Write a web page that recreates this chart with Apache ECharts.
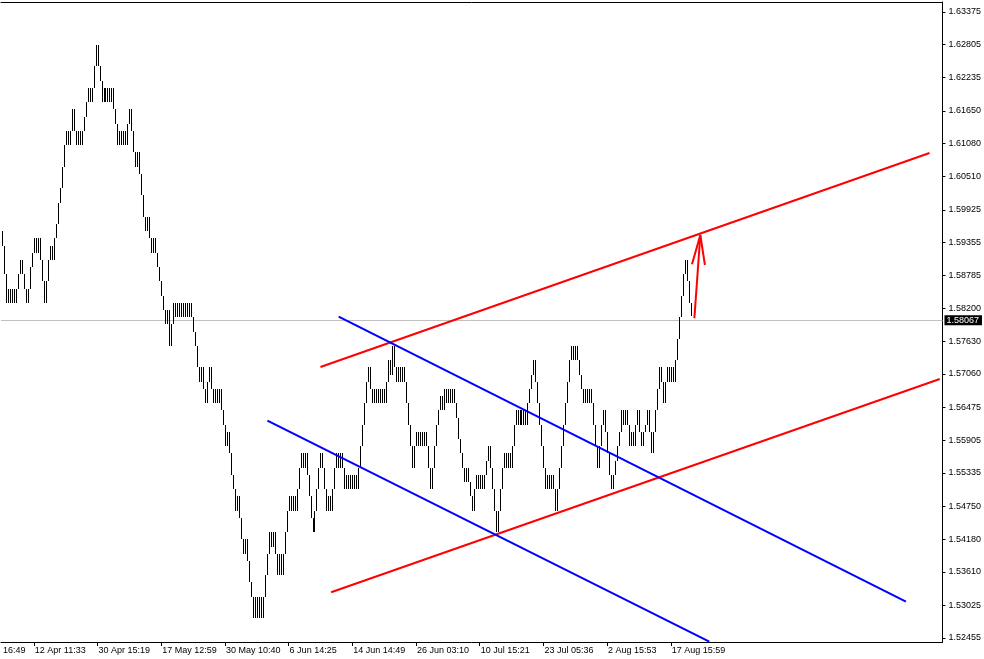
<!DOCTYPE html>
<html>
<head>
<meta charset="utf-8">
<script src="https://cdn.jsdelivr.net/npm/echarts@6/dist/echarts.min.js"></script>
<style>
  html, body { margin: 0; padding: 0; background: #ffffff; }
  #chart { width: 984px; height: 659px; }
</style>
</head>
<body>
<div id="chart"></div>
<script>
// ---- DATA ----
// Bar closes (each bar spans previous close -> its close)
const closes = [
  1.59550,1.59300,1.58800,1.58300,1.58550,1.58300,1.58550,1.58300,1.58550,1.58800,1.59050,
  1.58800,1.58550,1.58300,1.58550,1.58925,1.59175,1.59425,1.59175,1.59425,1.59050,1.58675,1.58300,1.58675,1.59050,1.59300,1.59050,1.59425,
  1.59675,1.60050,1.60300,1.60675,1.61050,1.61300,1.61050,1.61300,1.61675,1.61300,1.61050,1.61300,1.61050,1.61300,1.61550,1.61800,1.62050,1.61800,1.62050,1.62425,1.62800,
  1.62425,1.62175,1.61800,1.62050,1.61800,1.62050,1.61800,1.62050,1.61675,1.61425,1.61050,1.61300,1.61050,1.61300,1.61050,1.61425,1.61675,
  1.61300,1.60925,1.60675,1.60925,1.60550,1.60175,1.59800,1.59550,1.59800,1.59425,1.59175,1.59425,1.59175,1.58925,1.58675,1.58425,1.58175,
  1.57925,1.58175,1.57550,1.57925,1.58300,1.58050,1.58300,1.58050,1.58300,1.58050,1.58300,1.58050,1.58300,1.58050,1.57800,1.57550,1.57175,
  1.56925,1.57175,1.56800,1.56550,1.56925,1.57175,1.56800,1.56550,1.56800,1.56550,1.56800,1.56425,1.56175,1.55800,1.56050,1.55675,1.55300,1.55050,
  1.54675,1.54925,1.54550,1.54175,1.53925,1.54175,1.53800,1.53425,1.53175,1.52800,1.53175,1.52800,1.53175,1.52800,1.53175,1.53550,1.53925,1.54300,1.54050,1.54300,1.53925,1.53550,1.53925,1.53550,
  1.53925,1.54300,1.54675,1.54925,1.54675,1.54925,1.54675,1.55050,1.55425,1.55675,1.55425,1.55675,1.55300,1.54925,1.54550,1.54300,1.54675,1.55050,1.55425,1.55675,1.55425,1.55050,1.54675,1.54925,1.54675,1.55050,1.55425,1.55675,1.55425,1.55675,1.55425,
  1.55050,1.55300,1.55050,1.55300,1.55050,1.55300,1.55050,1.55425,1.55800,1.56175,1.56550,1.56925,1.57175,1.56800,1.56550,1.56800,1.56550,1.56800,1.56550,1.56800,1.56550,1.56925,1.57300,1.57050,1.57550,
  1.57175,1.56925,1.57175,1.56925,1.57175,1.56925,1.56550,1.56175,1.55800,1.55425,1.55800,1.56050,1.55800,1.56050,1.55800,1.56050,1.55800,1.55425,1.55050,1.55425,1.55800,1.56175,1.56425,1.56675,1.56425,1.56800,1.56550,1.56800,1.56550,1.56800,1.56550,
  1.56300,1.55925,1.55675,1.55425,1.55175,1.55425,1.55175,1.54925,1.54675,1.55050,1.55300,1.55050,1.55300,1.55050,1.55300,1.55550,1.55800,1.55425,1.55050,1.54675,1.54300,1.54675,1.55050,1.55425,1.55675,1.55425,1.55675,1.55425,1.55800,1.56175,
  1.56425,1.56175,1.56425,1.56175,1.56425,1.56175,1.56550,1.56800,1.57050,1.57300,1.56925,1.56550,1.56175,1.55800,1.55425,1.55050,1.55300,1.55050,1.55300,1.55050,1.54675,1.55050,1.55425,1.55800,1.56175,1.56550,1.56925,1.57300,1.57550,1.57300,1.57550,1.57300,
  1.57050,1.56800,1.56550,1.56800,1.56550,1.56800,1.56550,1.56175,1.55800,1.55425,1.55800,1.56175,1.56425,1.56050,1.55675,1.55300,1.55050,1.55300,1.55550,1.55800,1.56050,1.56425,1.56175,1.56425,1.56175,1.55800,1.56050,1.55800,1.56175,1.56425,1.56050,1.55800,1.56050,1.56175,1.56425,1.56050,1.55675,
  1.56050,1.56425,1.56800,1.57175,1.56925,1.56550,1.56925,1.57175,1.56925,1.57175,1.56925,1.57300,1.57675,1.58050,1.58425,1.58800,1.59050,1.58675,1.58300,1.58067
];
const currentPrice = 1.58067;

const yTickLabels = ['1.52455','1.53025','1.53610','1.54180','1.54750','1.55335','1.55905','1.56475','1.57060','1.57630',
  '1.58200','1.58785','1.59355','1.59925','1.60510','1.61080','1.61650','1.62235','1.62805','1.63375'];
const xTickLabels = ['16:49','12 Apr 11:33','30 Apr 15:19','17 May 12:59','30 May 10:40','6 Jun 14:25',
  '14 Jun 14:49','26 Jun 03:10','10 Jul 15:21','23 Jul 05:36','2 Aug 15:53','17 Aug 15:59'];
const xTickBars = [0,16,48,80,112,144,176,208,240,272,304,336];
const barSlots = 473;            // visible bar slots across the chart
const priceMin = 1.523852, priceMax = 1.635494;

// Drawn objects: [bar position, price]
const redUpper  = [[160.5, 1.57182], [466.5, 1.60915]];
const redLower  = [[165.85, 1.53252], [471.65, 1.56973]];
const blueUpper = [[169.65, 1.58060], [454.65, 1.53088]];
const blueLower = [[133.85, 1.56246], [355.85, 1.52390]];
const arrowShaft = [[348.35, 1.58032], [351.35, 1.59485]];
const arrowHead  = [[347.15, 1.58974], [351.35, 1.59485], [353.65, 1.58962]];

// ---- CHART ----
const FONT = 'Liberation Sans';
const FS = 9;
const chart = echarts.init(document.getElementById('chart'), null, { renderer: 'canvas' });

const barData = closes.slice(1).map((c, k) => [k + 0.5, closes[k], c]);
const yTickValues = yTickLabels.map(Number);
const xLabelValues = xTickBars.map(b => b + 0.5);
const xTickValues = xLabelValues.slice(1);

function lineSeries(data, color) {
  return {
    type: 'line', data: data, symbol: 'none', silent: true, clip: true,
    lineStyle: { color: color, width: 2 }, z: 3
  };
}

chart.setOption({
  animation: false,
  backgroundColor: '#ffffff',
  grid: { left: 0, right: 38, top: 2, bottom: 17, containLabel: false },
  xAxis: [{
    type: 'value', min: 0, max: barSlots, position: 'bottom',
    splitLine: { show: false },
    axisLine: { show: true, onZero: false, lineStyle: { color: '#000', width: 1 } },
    axisTick: { show: true, length: 4, lineStyle: { color: '#000' }, customValues: xTickValues },
    axisLabel: {
      show: true, customValues: xLabelValues, align: 'left', margin: 4,
      padding: [0, 0, 0, 1],
      color: '#000', fontFamily: FONT, fontSize: FS,
      formatter: v => xTickLabels[xLabelValues.indexOf(v)] || ''
    }
  }, {
    type: 'value', min: 0, max: barSlots, position: 'top',
    splitLine: { show: false },
    axisLine: { show: true, onZero: false, lineStyle: { color: '#000', width: 1 } },
    axisTick: { show: false }, axisLabel: { show: false }
  }],
  yAxis: {
    type: 'value', min: priceMin, max: priceMax, position: 'right', scale: true,
    splitLine: { show: false },
    axisLine: { show: true, onZero: false, lineStyle: { color: '#000', width: 1 } },
    axisTick: { show: true, length: 3, lineStyle: { color: '#000' }, customValues: yTickValues },
    axisLabel: {
      show: true, customValues: yTickValues, margin: 6, align: 'left',
      color: '#000', fontFamily: FONT, fontSize: FS,
      formatter: v => yTickLabels[yTickValues.indexOf(v)] || v.toFixed(5)
    }
  },
  series: [
    {
      type: 'custom', name: 'price', data: barData, clip: true, silent: true,
      encode: { x: 0, y: [1, 2] }, z: 2,
      renderItem: function (params, api) {
        const x = api.value(0);
        const p1 = api.coord([x, api.value(1)]);
        const p2 = api.coord([x, api.value(2)]);
        const px = Math.round(p1[0]) + 0.5;
        return {
          type: 'line',
          shape: { x1: px, y1: Math.round(p1[1]), x2: px, y2: Math.round(p2[1]) },
          style: { stroke: '#000', lineWidth: 1 }
        };
      }
    },
    Object.assign(lineSeries(redUpper, '#ff0000'), {
      markLine: {
        silent: true, symbol: ['none', 'none'], animation: false,
        lineStyle: { color: '#c0c0c0', width: 1, type: 'solid' },
        label: {
          show: true, position: 'end', distance: 2,
          formatter: () => currentPrice.toFixed(5),
          color: '#fff', backgroundColor: '#000', fontFamily: FONT, fontSize: FS,
          padding: [1, 3, 0, 2]
        },
        data: [{ yAxis: currentPrice }],
        z: 1
      }
    }),
    lineSeries(redLower, '#ff0000'),
    lineSeries(blueUpper, '#0000ff'),
    lineSeries(blueLower, '#0000ff'),
    lineSeries(arrowShaft, '#ff0000'),
    lineSeries(arrowHead, '#ff0000')
  ]
});
</script>
</body>
</html>
